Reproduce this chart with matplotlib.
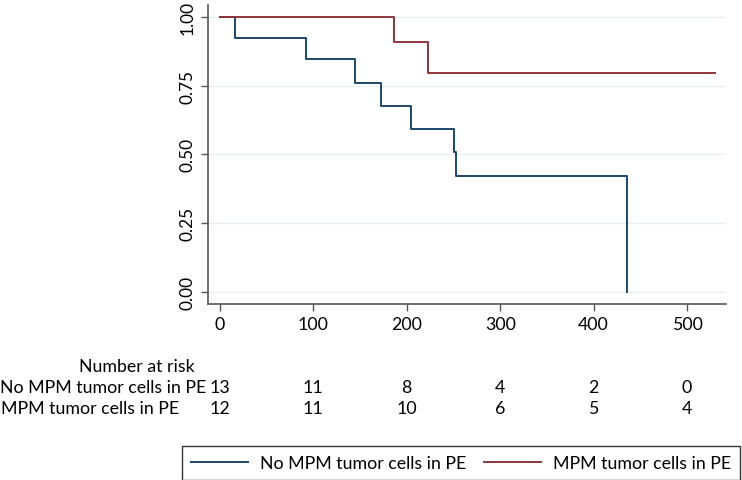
import matplotlib.pyplot as plt
import matplotlib.transforms as mtransforms

plt.rcParams['font.family'] = ['Lato', 'DejaVu Sans']

# Kaplan-Meier steps
t_no = [0, 16, 92, 145, 172, 204, 250, 253, 436]
s_no = [1.0, 0.923, 0.846, 0.761, 0.677, 0.592, 0.508, 0.423, 0.0]
t_mpm = [0, 186, 223, 530]
s_mpm = [1.0, 0.909, 0.795, 0.795]

label_no = 'No MPM tumor cells in PE'
label_mpm = 'MPM tumor cells in PE'

risk_times = [0, 100, 200, 300, 400, 500]
risk_no = [13, 11, 8, 4, 2, 0]
risk_mpm = [12, 11, 10, 6, 5, 4]

blue = '#1a476f'
red = '#90353b'
fs = 12.8

fig = plt.figure(figsize=(7.42, 4.81), dpi=100)
ax = fig.add_axes([208 / 742, 1 - 305 / 481, (726 - 208) / 742, (305 - 6) / 481])

ax.step(t_no, s_no, where='post', color=blue, lw=1.4, label=label_no)
ax.step(t_mpm, s_mpm, where='post', color=red, lw=1.4, label=label_mpm)

ax.set_xlim(-12.8, 541.7)
ax.set_ylim(-0.0436, 1.043)
ax.set_xticks(risk_times)
ax.set_yticks([0, 0.25, 0.5, 0.75, 1.0])
ax.set_yticklabels(['%.2f' % v for v in [0, 0.25, 0.5, 0.75, 1.0]],
                   rotation=90, va='center')
ax.tick_params(labelsize=fs, length=5, width=1, color='#555555', pad=4)
ax.tick_params(axis='y', labelsize=12.4)
ax.grid(axis='y', color='#e8f0f2', lw=1)
ax.set_axisbelow(True)
for side in ['top', 'right']:
    ax.spines[side].set_visible(False)
for side in ['left', 'bottom']:
    ax.spines[side].set_color('#555555')
    ax.spines[side].set_linewidth(1.2)

# number at risk table
tr = mtransforms.blended_transform_factory(ax.transData, fig.transFigure)
fig.text(195 / 742, 1 - 367 / 481, 'Number at risk', ha='right', va='center', fontsize=fs)
fig.text(0.0, 1 - 388 / 481, label_no, ha='left', va='center', fontsize=fs)
fig.text(1 / 742, 1 - 409 / 481, label_mpm, ha='left', va='center', fontsize=fs)
for t, a, b in zip(risk_times, risk_no, risk_mpm):
    ax.text(t, 1 - 388 / 481, str(a), transform=tr, ha='center', va='center', fontsize=fs)
    ax.text(t, 1 - 409 / 481, str(b), transform=tr, ha='center', va='center', fontsize=fs)

leg = fig.legend(loc='lower left', ncol=2, mode='expand',
                 bbox_to_anchor=(182 / 742, 0.0, (740 - 182) / 742, 36 / 481),
                 fontsize=fs, frameon=True, fancybox=False, edgecolor='black',
                 handlelength=3.2, handletextpad=0.7, borderaxespad=0,
                 borderpad=0.5)
leg.get_frame().set_linewidth(1.0)

fig.savefig('out.png', dpi=100)
